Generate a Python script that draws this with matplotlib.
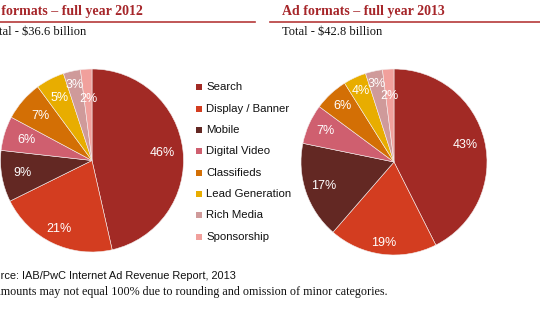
import matplotlib
matplotlib.use("Agg")
import matplotlib.pyplot as plt
from matplotlib.patches import Rectangle
import numpy as np

categories = ["Search", "Display / Banner", "Mobile", "Digital Video",
              "Classifieds", "Lead Generation", "Rich Media", "Sponsorship"]
values_2012 = [46, 21, 9, 6, 7, 5, 3, 2]
values_2013 = [43, 19, 17, 7, 6, 4, 3, 2]
title_2012 = "Ad formats – full year 2012"
title_2013 = "Ad formats – full year 2013"
total_2012 = "Total - $36.6 billion"
total_2013 = "Total - $42.8 billion"
source_text = "Source: IAB/PwC Internet Ad Revenue Report, 2013"
note_text = "Amounts may not equal 100% due to rounding and omission of minor categories."

colors = ["#A22A25", "#D33D20", "#632823", "#CF5F6F",
          "#D36F05", "#E8AD00", "#CF9A9A", "#F1A09C"]
title_color = "#A6262A"
line_color = "#B53A3A"

# label radial distances (style)
dist_2012 = [0.77, 0.83, 0.77, 0.75, 0.74, 0.77, 0.85, 0.67]
dist_2013 = [0.79, 0.88, 0.80, 0.81, 0.82, 0.84, 0.86, 0.71]

W, H = 540, 334
fig = plt.figure(figsize=(W / 100, H / 100), dpi=100)
fig.patch.set_facecolor("white")

def px(x, y):
    return x / W, 1 - y / H

def draw_pie(cx, cy, r, values, dists):
    ax = fig.add_axes([(cx - r) / W, (H - cy - r) / H, 2 * r / W, 2 * r / H])
    wedges, _ = ax.pie(values, colors=colors, startangle=90, counterclock=False,
                       radius=1, wedgeprops=dict(edgecolor="#f4eeee", linewidth=0.4))
    for w, v, d in zip(wedges, values, dists):
        th = np.deg2rad((w.theta1 + w.theta2) / 2)
        ax.text(d * np.cos(th), d * np.sin(th), f"{v}%", color="white",
                ha="center", va="center", fontsize=9, family="Liberation Sans")
    ax.set_xlim(-1, 1)
    ax.set_ylim(-1, 1)
    ax.set_aspect("equal")
    ax.axis("off")

draw_pie(92, 160.5, 91.5, values_2012, dist_2012)
draw_pie(394, 162, 93, values_2013, dist_2013)

serif = "Liberation Serif"
sans = "Liberation Sans"

# Titles
fig.text(*px(-20, 14.5), title_2012, color=title_color, fontsize=10, fontweight="bold",
         family=serif, ha="left", va="baseline")
fig.text(*px(282, 14.5), title_2013, color=title_color, fontsize=10, fontweight="bold",
         family=serif, ha="left", va="baseline")
# underline rules
for x0, x1 in [(0, 255), (270, 540)]:
    fig.add_artist(plt.Line2D([x0 / W, x1 / W], [1 - 21.7 / H] * 2,
                              color=line_color, linewidth=1.2, transform=fig.transFigure))
fig.text(*px(-14, 35), total_2012, color="#111111", fontsize=9, family=serif,
         ha="left", va="baseline")
fig.text(*px(282, 35), total_2013, color="#111111", fontsize=9, family=serif,
         ha="left", va="baseline")

# Legend
y0, dy = 87.3, 21.35
for i, (cat, c) in enumerate(zip(categories, colors)):
    yc = y0 + i * dy
    fig.add_artist(Rectangle(((196) / W, 1 - (yc + 3) / H), 6 / W, 6 / H,
                             facecolor=c, edgecolor="none", transform=fig.transFigure))
    fig.text(*px(206, yc), cat, fontsize=8.2, family=sans, color="#111111",
             ha="left", va="center")

# Footer
fig.text(*px(-19, 279), source_text, fontsize=7.95, family=sans, color="#111111",
         ha="left", va="baseline")
fig.text(*px(-7.5, 295), note_text, fontsize=8.75, family=serif, color="#111111",
         ha="left", va="baseline")

fig.savefig("out.png", dpi=100, facecolor="white")
